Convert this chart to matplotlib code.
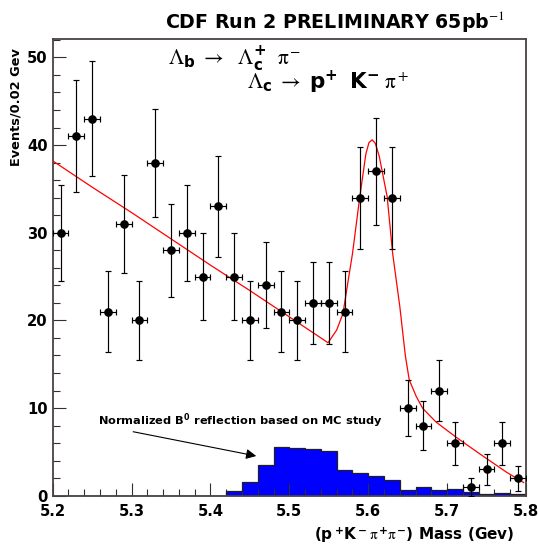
import numpy as np
import matplotlib
matplotlib.use("Agg")
import matplotlib.pyplot as plt
from matplotlib.ticker import MultipleLocator

# ---------------- data ----------------
mass = [5.21, 5.23, 5.25, 5.27, 5.29, 5.31, 5.33, 5.35, 5.37, 5.39,
        5.41, 5.43, 5.45, 5.47, 5.49, 5.51, 5.53, 5.55, 5.57, 5.59,
        5.61, 5.63, 5.65, 5.67, 5.69, 5.71, 5.73, 5.75, 5.77, 5.79]
events = [30, 41, 43, 21, 31, 20, 38, 28, 30, 25,
          33, 25, 20, 24, 21, 20, 22, 22, 21, 34,
          37, 34, 10, 8, 12, 6, 1, 3, 6, 2]
bin_half_width = 0.01

refl_edges = [5.20, 5.22, 5.24, 5.26, 5.28, 5.30, 5.32, 5.34, 5.36, 5.38,
              5.40, 5.42, 5.44, 5.46, 5.48, 5.50, 5.52, 5.54, 5.56, 5.58,
              5.60, 5.62, 5.64, 5.66, 5.68, 5.70, 5.72, 5.74, 5.76, 5.78, 5.80]
refl_values = [0, 0, 0, 0, 0, 0, 0, 0, 0, 0,
               0, 0.54, 1.55, 3.5, 5.6, 5.45, 5.3, 5.05, 2.9, 2.55,
               2.25, 1.8, 0.6, 1.0, 0.68, 0.75, 0.45, 0.2, 0.32, 0.2]

fit_x = [5.200, 5.250, 5.300, 5.350, 5.400, 5.450, 5.500, 5.530, 5.549,
         5.560, 5.568, 5.575, 5.580, 5.589, 5.597, 5.601, 5.605, 5.609,
         5.614, 5.624, 5.631, 5.640, 5.647, 5.652, 5.661, 5.669, 5.686,
         5.711, 5.741, 5.775, 5.797]
fit_y = [38.2, 35.2, 32.3, 29.3, 26.3, 23.4, 20.4, 18.6, 17.45,
         18.9, 20.8, 24.8, 27.6, 33.9, 39.0, 40.3, 40.6, 40.2,
         38.7, 34.1, 27.6, 21.6, 16.0, 13.2, 11.3, 9.97, 8.4,
         6.7, 4.8, 2.7, 1.5]

x_ticks = [5.2, 5.3, 5.4, 5.5, 5.6, 5.7, 5.8]
y_ticks = [0, 10, 20, 30, 40, 50]

# ---------------- style ----------------
plt.rcParams['font.family'] = ['DejaVu Sans']
plt.rcParams['font.weight'] = 'bold'
plt.rcParams['mathtext.fontset'] = 'custom'
plt.rcParams['mathtext.rm'] = 'STIXGeneral:weight=normal'
plt.rcParams['mathtext.it'] = 'STIXGeneral:weight=normal'
plt.rcParams['mathtext.bf'] = 'DejaVu Sans:weight=bold'

fig = plt.figure(figsize=(5.38, 5.48), dpi=100)
ax = fig.add_axes([0.098, 0.0954, 0.8797, 0.8334])

frame_col = '#4a4242'

# reflection histogram
ax.stairs(refl_values, refl_edges, fill=True, color='#0000ff', zorder=1)
ax.stairs(refl_values, refl_edges, fill=False, color='#202020', lw=0.9, zorder=2)

# fit curve
ax.plot(fit_x, fit_y, color='#ff0000', lw=0.9, zorder=3)

# data points
yerr = np.sqrt(np.array(events, dtype=float))
ax.errorbar(mass, events, yerr=yerr, xerr=bin_half_width, fmt='o', color='black',
            ms=5.2, elinewidth=0.85, capsize=2.2, capthick=0.85, zorder=4)

ax.set_xlim(5.2, 5.8)
ax.set_ylim(0, 52.1)
ax.set_xticks(x_ticks)
ax.set_xticklabels([f"{v:.1f}" for v in x_ticks])
ax.set_yticks(y_ticks)
ax.xaxis.set_minor_locator(MultipleLocator(0.02))
ax.yaxis.set_minor_locator(MultipleLocator(2))
ax.tick_params(which='both', direction='in', top=False, right=False,
               color='#303030', width=0.8)
ax.tick_params(which='major', length=9.5, labelsize=10.6, pad=3.5)
ax.tick_params(which='minor', length=5)
ax.tick_params(axis='x', which='major', pad=6)
for s in ax.spines.values():
    s.set_color(frame_col)
    s.set_linewidth(1.3)

# texts
fig.text(0.9387, 0.948, r'CDF Run 2 PRELIMINARY 65pb$^{-1}$', ha='right',
         va='baseline', fontsize=13.7, fontweight='bold')
fig.text(168 / 538, 1 - 64.5 / 548,
         r'$\Lambda_{\mathbf{b}}\;\rightarrow\ \ \Lambda_{\mathbf{c}}^{\mathbf{+}}\ \ \pi^{-}$',
         ha='left', va='baseline', fontsize=15.5)
fig.text(247 / 538, 1 - 88.3 / 548,
         r'$\Lambda_{\mathbf{c}}\;\rightarrow\ \mathbf{p}^{\mathbf{+}}\ \ \mathbf{K}^{\mathbf{-}}\;\pi^{+}$',
         ha='left', va='baseline', fontsize=15.5)

fig.text(16 / 538, 1 - 48 / 548, 'Events/0.02 Gev', rotation=90, ha='center',
         va='top', fontsize=9.3, fontweight='bold')
fig.text(515 / 538, 1 - 540 / 548,
         r'(p$\,^{\mathbf{+}}$K$\,^{\mathbf{-}}\,\pi^{\mathbf{+}}\pi^{\mathbf{-}}$) Mass (Gev)',
         ha='right', va='baseline', fontsize=11, fontweight='bold')

ax.text(5.257, 8.06, r'Normalized B$^{\mathbf{0}}$ reflection based on MC study',
        ha='left', va='baseline', fontsize=8.2, fontweight='bold')
ax.annotate('', xy=(5.458, 4.53), xytext=(5.302, 7.3),
            arrowprops=dict(arrowstyle='-|>', color='black', lw=0.8,
                            mutation_scale=15, shrinkA=0, shrinkB=0))

fig.savefig('out.png', dpi=100)
